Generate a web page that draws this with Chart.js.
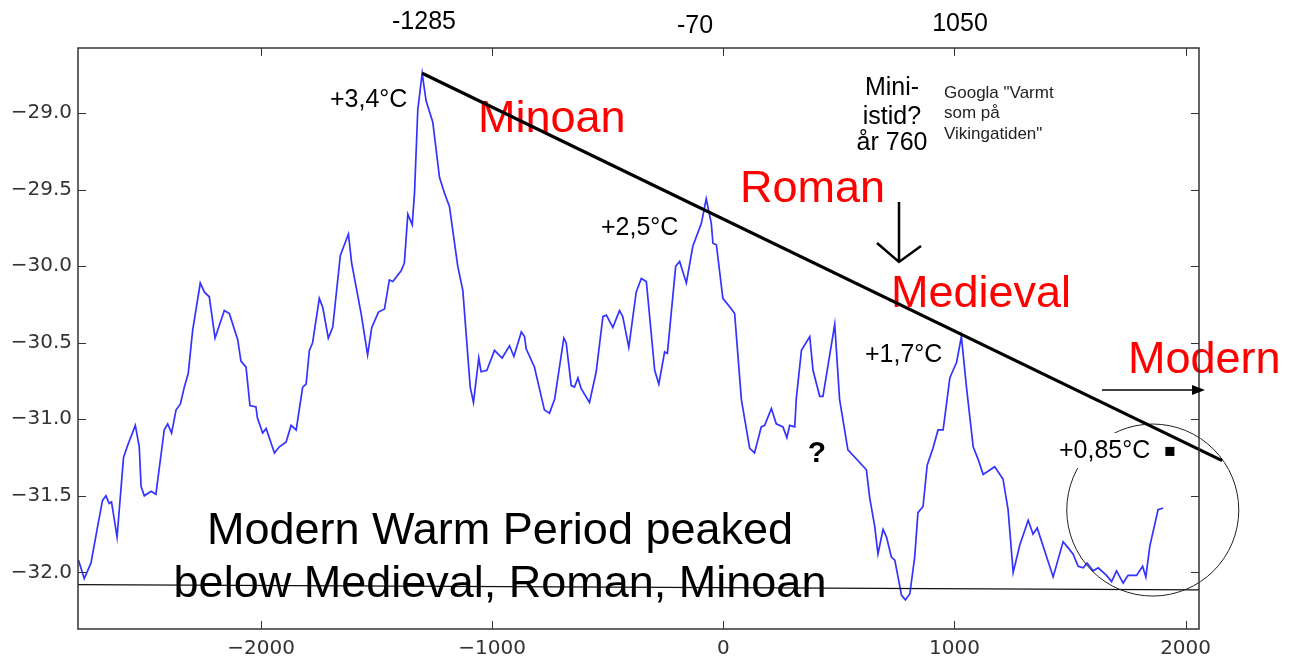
<!DOCTYPE html>
<html lang="sv">
<head>
<meta charset="UTF-8">
<title>GISP2 temperatur</title>
<script src="https://cdn.jsdelivr.net/npm/chart.js"></script>
<style>
  html, body { margin: 0; padding: 0; background: #fff; }
  #wrap { width: 1298px; height: 661px; position: relative; }
</style>
</head>
<body>
<div id="wrap"><canvas id="graf"></canvas></div>
<script>
// år (x) och temperatur (y)
const years = [-2790,-2765,-2736,-2707,-2686,-2671,-2657,-2647,-2623,-2595,-2577,-2544,-2527,-2519,-2505,-2476,-2455,-2419,-2404,-2387,-2368,-2349,-2332,-2315,-2296,-2263,-2245,-2224,-2199,-2159,-2137,-2101,-2087,-2065,-2048,-2022,-2016,-1993,-1978,-1942,-1921,-1892,-1870,-1848,-1820,-1805,-1791,-1777,-1748,-1733,-1709,-1690,-1657,-1622,-1608,-1567,-1539,-1521,-1492,-1466,-1445,-1430,-1394,-1380,-1365,-1346,-1336,-1322,-1303,-1286,-1257,-1228,-1207,-1185,-1149,-1127,-1095,-1081,-1058,-1048,-1023,-990,-957,-925,-906,-874,-860,-853,-817,-774,-752,-730,-690,-680,-658,-644,-629,-615,-579,-550,-521,-506,-478,-449,-435,-409,-377,-355,-333,-297,-279,-254,-242,-206,-189,-160,-132,-95,-74,-52,-45,-30,-2,35,49,78,114,135,164,179,208,229,258,275,287,309,316,338,374,388,417,431,482,503,539,619,633,655,669,691,706,727,742,771,788,807,828,842,864,882,907,929,951,980,994,1009,1030,1052,1081,1102,1124,1145,1174,1210,1232,1254,1283,1319,1340,1358,1427,1470,1492,1513,1535,1557,1574,1600,1622,1658,1680,1701,1730,1751,1788,1814,1828,1845,1881,1903];
const temps = [-31.92,-32.04,-31.94,-31.70,-31.53,-31.50,-31.55,-31.54,-31.77,-31.25,-31.17,-31.04,-31.18,-31.44,-31.50,-31.47,-31.49,-31.07,-31.03,-31.09,-30.94,-30.90,-30.79,-30.70,-30.42,-30.11,-30.17,-30.20,-30.47,-30.29,-30.31,-30.48,-30.62,-30.66,-30.91,-30.92,-30.99,-31.09,-31.06,-31.22,-31.18,-31.15,-31.04,-31.07,-30.79,-30.77,-30.55,-30.50,-30.21,-30.27,-30.47,-30.40,-29.93,-29.79,-29.98,-30.31,-30.58,-30.40,-30.30,-30.28,-30.09,-30.10,-30.03,-29.98,-29.66,-29.73,-29.52,-28.98,-28.74,-28.92,-29.06,-29.42,-29.52,-29.61,-30.00,-30.16,-30.79,-30.89,-30.60,-30.69,-30.68,-30.55,-30.60,-30.52,-30.59,-30.43,-30.46,-30.54,-30.66,-30.94,-30.96,-30.87,-30.47,-30.50,-30.78,-30.79,-30.73,-30.80,-30.89,-30.69,-30.33,-30.32,-30.40,-30.29,-30.33,-30.53,-30.17,-30.08,-30.10,-30.68,-30.77,-30.56,-30.57,-30.00,-29.97,-30.11,-29.87,-29.72,-29.56,-29.72,-29.85,-29.86,-30.21,-30.28,-30.31,-30.87,-31.19,-31.22,-31.05,-31.04,-30.93,-31.03,-31.05,-31.12,-31.04,-31.05,-30.86,-30.55,-30.46,-30.68,-30.85,-30.85,-30.38,-30.87,-31.20,-31.33,-31.51,-31.70,-31.88,-31.72,-31.77,-31.90,-31.92,-32.15,-32.18,-32.14,-31.90,-31.61,-31.57,-31.30,-31.19,-31.07,-31.07,-30.73,-30.68,-30.63,-30.46,-30.79,-31.18,-31.26,-31.36,-31.34,-31.31,-31.39,-31.59,-32.00,-31.82,-31.66,-31.75,-31.71,-32.03,-31.80,-31.84,-31.88,-31.96,-31.97,-31.94,-31.99,-31.97,-32.02,-32.06,-31.99,-32.07,-32.02,-32.02,-31.96,-32.03,-31.83,-31.59,-31.58];

// inritade linjer och markeringar
const trendYears = [-1303, 2158];
const trendTemps = [-28.74, -31.27];
const baseYears = [-2792, 2058];
const baseTemps = [-32.08, -32.115];
const circleYear = [1858];
const circleTemp = [-31.593];
const markYear = [1932];
const markTemp = [-31.21];

const xTicks = [-2000, -1000, 0, 1000, 2000];
const yTicks = [-32.0, -31.5, -31.0, -30.5, -30.0, -29.5, -29.0];

function toPts(xs, ys) {
    const n = Math.min(xs.length, ys.length);
    const out = [];
    for (let i = 0; i < n; i++) out.push({ x: xs[i], y: ys[i] });
    return out;
}

const SANS = '"Liberation Sans", Arial, sans-serif';

function txt(ctx, s, x, y, size, color, align, weight) {
    ctx.font = (weight || 'normal') + ' ' + size + 'px ' + SANS;
    ctx.fillStyle = color;
    ctx.textAlign = align || 'left';
    ctx.textBaseline = 'alphabetic';
    ctx.fillText(s, x, y);
}

const overlay = {
    id: 'overlay',
    beforeDatasetsDraw(chart) {
        const ctx = chart.ctx;
        ctx.save();
        txt(ctx, 'Minoan', 478, 132, 45, '#ff0000');
        txt(ctx, 'Roman', 740, 202, 45, '#ff0000');
        txt(ctx, 'Medieval', 891, 307, 45, '#ff0000');
        txt(ctx, 'Modern', 1128, 373, 45, '#ff0000');
        ctx.restore();
    },
    afterDatasetsDraw(chart) {
        const ctx = chart.ctx;
        const a = chart.chartArea;
        const xs = chart.scales.x, ys = chart.scales.y;
        ctx.save();

        // ram och inåtriktade streck
        ctx.strokeStyle = '#333';
        ctx.lineWidth = 1.5;
        ctx.strokeRect(a.left, a.top, a.right - a.left, a.bottom - a.top);
        ctx.lineWidth = 1;
        ctx.beginPath();
        xTicks.forEach(v => {
            const p = Math.round(xs.getPixelForValue(v)) + 0.5;
            ctx.moveTo(p, a.bottom); ctx.lineTo(p, a.bottom - 8);
            ctx.moveTo(p, a.top); ctx.lineTo(p, a.top + 8);
        });
        yTicks.forEach(v => {
            const p = Math.round(ys.getPixelForValue(v)) + 0.5;
            ctx.moveTo(a.left, p); ctx.lineTo(a.left + 8, p);
            ctx.moveTo(a.right, p); ctx.lineTo(a.right - 8, p);
        });
        ctx.stroke();

        // årtal ovanför
        txt(ctx, '-1285', 424, 29, 25, '#000', 'center');
        txt(ctx, '-70', 695, 33, 25, '#000', 'center');
        txt(ctx, '1050', 960, 31, 25, '#000', 'center');

        txt(ctx, '+3,4°C', 330, 107, 25, '#000');
        txt(ctx, '+2,5°C', 601, 235, 25, '#000');
        txt(ctx, '+1,7°C', 865, 362, 25, '#000');
        ctx.fillStyle = '#fff';
        ctx.fillRect(1052, 433, 103, 35);
        txt(ctx, '+0,85°C', 1059, 458, 25, '#000');
        txt(ctx, '?', 817, 462, 30, '#000', 'center', 'bold');

        txt(ctx, 'Mini-', 892, 95, 25, '#000', 'center');
        txt(ctx, 'istid?', 892, 124, 25, '#000', 'center');
        txt(ctx, 'år 760', 892, 150, 25, '#000', 'center');

        txt(ctx, 'Googla "Varmt', 944, 98, 17, '#222');
        txt(ctx, 'som på', 944, 118, 17, '#222');
        txt(ctx, 'Vikingatiden"', 944, 139, 17, '#222');

        txt(ctx, 'Modern Warm Period peaked', 500, 544, 45, '#000', 'center');
        txt(ctx, 'below Medieval, Roman, Minoan', 500, 597, 45, '#000', 'center');

        // pil nedåt vid år 760
        ctx.strokeStyle = '#000';
        ctx.lineWidth = 2.5;
        ctx.beginPath();
        ctx.moveTo(899, 202); ctx.lineTo(899, 262);
        ctx.moveTo(877, 243); ctx.lineTo(899, 262); ctx.lineTo(921, 246);
        ctx.stroke();

        // pil åt höger vid Modern
        ctx.lineWidth = 1.5;
        ctx.beginPath();
        ctx.moveTo(1102, 390); ctx.lineTo(1195, 390);
        ctx.stroke();
        ctx.fillStyle = '#000';
        ctx.beginPath();
        ctx.moveTo(1205, 390); ctx.lineTo(1192, 385); ctx.lineTo(1192, 395);
        ctx.closePath();
        ctx.fill();

        ctx.restore();
    }
};

const ctx = document.getElementById('graf').getContext('2d');
new Chart(ctx, {
    type: 'scatter',
    data: {
        datasets: [
            { data: toPts(trendYears, trendTemps), showLine: true, borderColor: '#000', borderWidth: 3.2, pointRadius: 0, clip: false },
            { data: toPts(markYear, markTemp), pointStyle: 'rect', pointRadius: 6.4, backgroundColor: '#000', borderWidth: 0, clip: false },
            { data: toPts(circleYear, circleTemp), pointStyle: 'circle', pointRadius: 86, backgroundColor: 'rgba(0,0,0,0)', borderColor: '#222', borderWidth: 1, clip: false },
            { data: toPts(baseYears, baseTemps), showLine: true, borderColor: '#111', borderWidth: 1.2, pointRadius: 0, clip: false },
            { data: toPts(years, temps), showLine: true, borderColor: '#3333ff', borderWidth: 1.7, pointRadius: 0, tension: 0 }
        ]
    },
    options: {
        animation: false,
        responsive: true,
        maintainAspectRatio: false,
        events: [],
        layout: { autoPadding: false, padding: { top: 48, right: 99, left: 0, bottom: 0 } },
        plugins: { legend: { display: false }, tooltip: { enabled: false } },
        scales: {
            x: {
                type: 'linear', min: -2792, max: 2058,
                grid: { display: false, drawTicks: false },
                border: { display: false },
                afterBuildTicks: s => { s.ticks = xTicks.map(v => ({ value: v })); },
                afterFit: s => { s.height = 32; },
                ticks: {
                    autoSkip: false, maxRotation: 0, padding: 8, color: '#333',
                    font: { family: 'DejaVu Sans', size: 20 },
                    callback: v => String(v).replace('-', '\u2212')
                }
            },
            y: {
                type: 'linear', min: -32.37, max: -28.575,
                grid: { display: false, drawTicks: false },
                border: { display: false },
                afterBuildTicks: s => { s.ticks = yTicks.map(v => ({ value: v })); },
                afterFit: s => { s.width = 78; },
                ticks: {
                    autoSkip: false, padding: 6, color: '#333',
                    font: { family: 'DejaVu Sans', size: 20 },
                    callback: v => v.toFixed(1).replace('-', '\u2212')
                }
            }
        }
    },
    plugins: [overlay]
});
</script>
</body>
</html>
